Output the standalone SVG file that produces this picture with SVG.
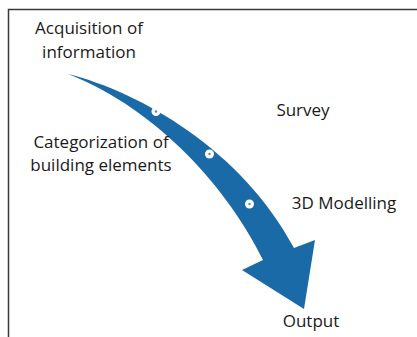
<svg xmlns="http://www.w3.org/2000/svg" width="417" height="337" viewBox="0 0 417 337">
<style>
.t{font-family:"Open Sans","Noto Sans",sans-serif;font-size:17px;fill:#1a1a1a}
.dot{fill:#fff}
.dc{fill:#4a90c8}
</style>
<rect width="417" height="337" fill="#fff"/>
<path d="M8.5,340 V9.5 H420" fill="none" stroke="#3a3a3a" stroke-width="1.5"/>
<g id="connectors">
<path id="arrow" d="M68,74 C140,92 242,150 294,248 L315,240 L304,309 L242,270 L263,260 C230,192 160,110 68,74 Z" fill="#1a6aa8"/>
</g>
<g id="dot1"><circle class="dot" cx="156" cy="111.5" r="4.5"/><circle class="dc" cx="156" cy="111.5" r="1.2"/></g>
<g id="dot2"><circle class="dot" cx="209.5" cy="154" r="4.5"/><circle class="dc" cx="209.5" cy="154" r="1.2"/></g>
<g id="dot3"><circle class="dot" cx="249.5" cy="204" r="4.5"/><circle class="dc" cx="249.5" cy="204" r="1.2"/></g>
<g id="acq"><text class="t" x="89" y="34" text-anchor="middle">Acquisition of</text><text class="t" x="89" y="58" text-anchor="middle">information</text></g>
<g id="survey"><text class="t" x="303" y="116" text-anchor="middle">Survey</text></g>
<g id="cat"><text class="t" x="101" y="148" text-anchor="middle">Categorization of</text><text class="t" x="101" y="171" text-anchor="middle">building elements</text></g>
<g id="model"><text class="t" x="344" y="209" text-anchor="middle">3D Modelling</text></g>
<g id="output"><text class="t" x="311" y="327" text-anchor="middle">Output</text></g>
</svg>
